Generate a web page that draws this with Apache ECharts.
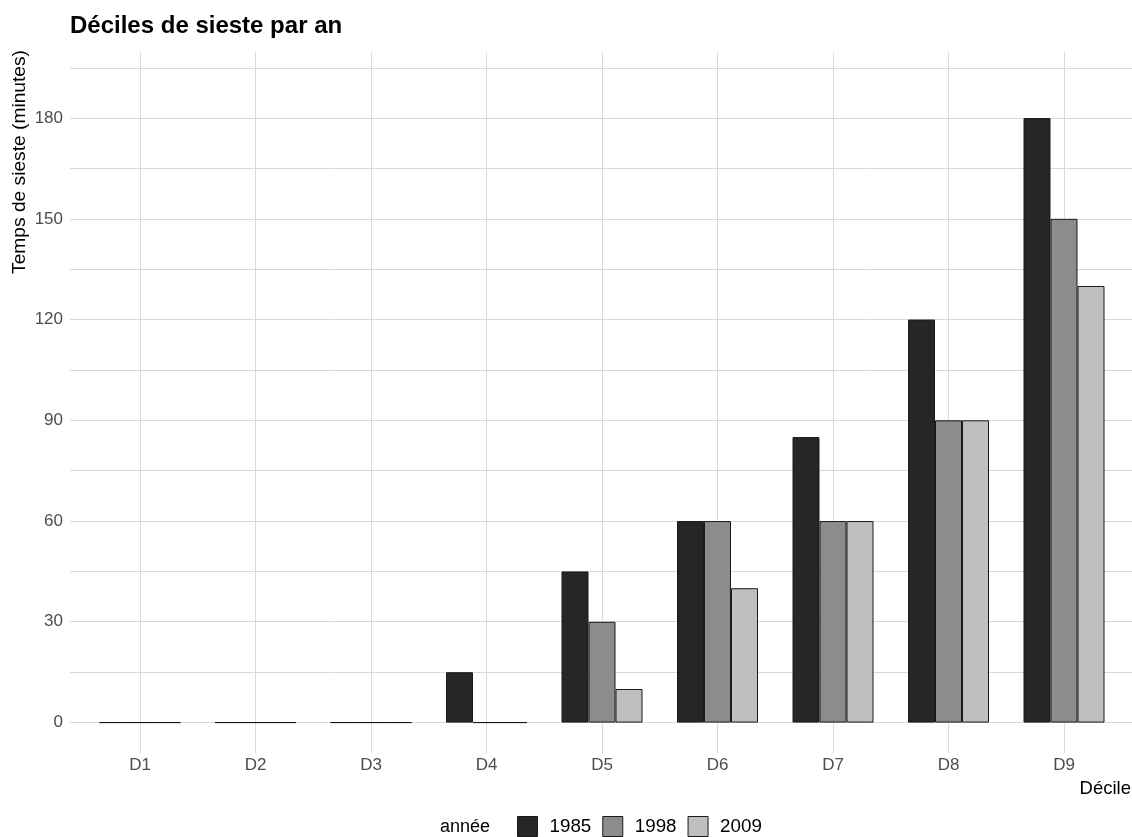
<!DOCTYPE html>
<html>
<head>
<meta charset="utf-8">
<script src="https://cdn.jsdelivr.net/npm/echarts@6/dist/echarts.min.js"></script>
<style>html,body{margin:0;padding:0;background:#fff}#c{width:1132px;height:837px}</style>
</head>
<body>
<div id="c"></div>
<script>
const categories = ['D1','D2','D3','D4','D5','D6','D7','D8','D9'];
const years = ['1985','1998','2009'];
const v1985 = [0,0,0,15,45,60,85,120,180];
const v1998 = [0,0,0,0,30,60,60,90,150];
const v2009 = [0,0,0,0,10,40,60,90,130];
const colors = ['#262626','#8c8c8c','#bfbfbf'];
const seriesValues = [v1985, v1998, v2009];

const FONT = "'Liberation Sans', Arial, sans-serif";
const chart = echarts.init(document.getElementById('c'), null, {renderer:'canvas'});
const grid = '#d9d9d9';

chart.setOption({
  animation:false,
  backgroundColor:'#fff',
  title:{text:'Déciles de sieste par an', left:70, top:14, padding:0,
    textStyle:{fontFamily:FONT, fontSize:24, fontWeight:'bold', color:'#000'}},
  grid:[
    {left:70, right:0, top:68, bottom:114.7},
    {left:140, right:1132-1064, top:52.7, bottom:837-753.3}
  ],
  xAxis:[
    {gridIndex:0, type:'value', show:false, min:0, max:1},
    {gridIndex:1, type:'category', data:categories, boundaryGap:false,
      axisLine:{show:false}, axisTick:{show:false},
      axisLabel:{margin:4, fontFamily:FONT, fontSize:17, color:'#4d4d4d'},
      splitLine:{show:true, lineStyle:{color:grid, width:1}}}
  ],
  yAxis:[
    {gridIndex:0, type:'value', min:0, max:195, interval:15,
      axisLine:{show:false}, axisTick:{show:false},
      axisLabel:{margin:7, fontFamily:FONT, fontSize:17, color:'#4d4d4d',
        formatter:v => (v % 30 === 0 && v <= 180) ? String(v) : ''},
      splitLine:{show:true, lineStyle:{color:grid, width:1}}},
    {gridIndex:1, type:'value', min:-9.15, max:199.46, show:false,
      splitLine:{show:false}}
  ],
  legend:{data:years, left:517, top:816, padding:0, icon:'rect',
    itemWidth:20, itemHeight:20, itemGap:11,
    itemStyle:{borderColor:'#1a1a1a', borderWidth:1},
    textStyle:{fontFamily:FONT, fontSize:18.8, color:'#000', padding:[0,0,0,7]}},
  series: years.map((y,i)=>({
    name:y, type:'bar', xAxisIndex:1, yAxisIndex:1,
    data:seriesValues[i], barWidth:27, barGap:'0%',
    itemStyle:{color:colors[i], borderColor:'#1a1a1a', borderWidth:1}
  })),
  graphic:[
    {type:'text', x:20, y:50, rotation:Math.PI/2,
      style:{text:'Temps de sieste (minutes)', fontFamily:FONT, fontSize:19.2, fill:'#000',
        align:'right', verticalAlign:'middle'}},
    {type:'text', x:1131, y:789,
      style:{text:'Décile', fontFamily:FONT, fontSize:18.5, fill:'#000',
        align:'right', verticalAlign:'middle'}},
    {type:'text', x:440, y:827,
      style:{text:'année', fontFamily:FONT, fontSize:18, fill:'#000',
        align:'left', verticalAlign:'middle'}}
  ]
});
</script>
</body>
</html>
